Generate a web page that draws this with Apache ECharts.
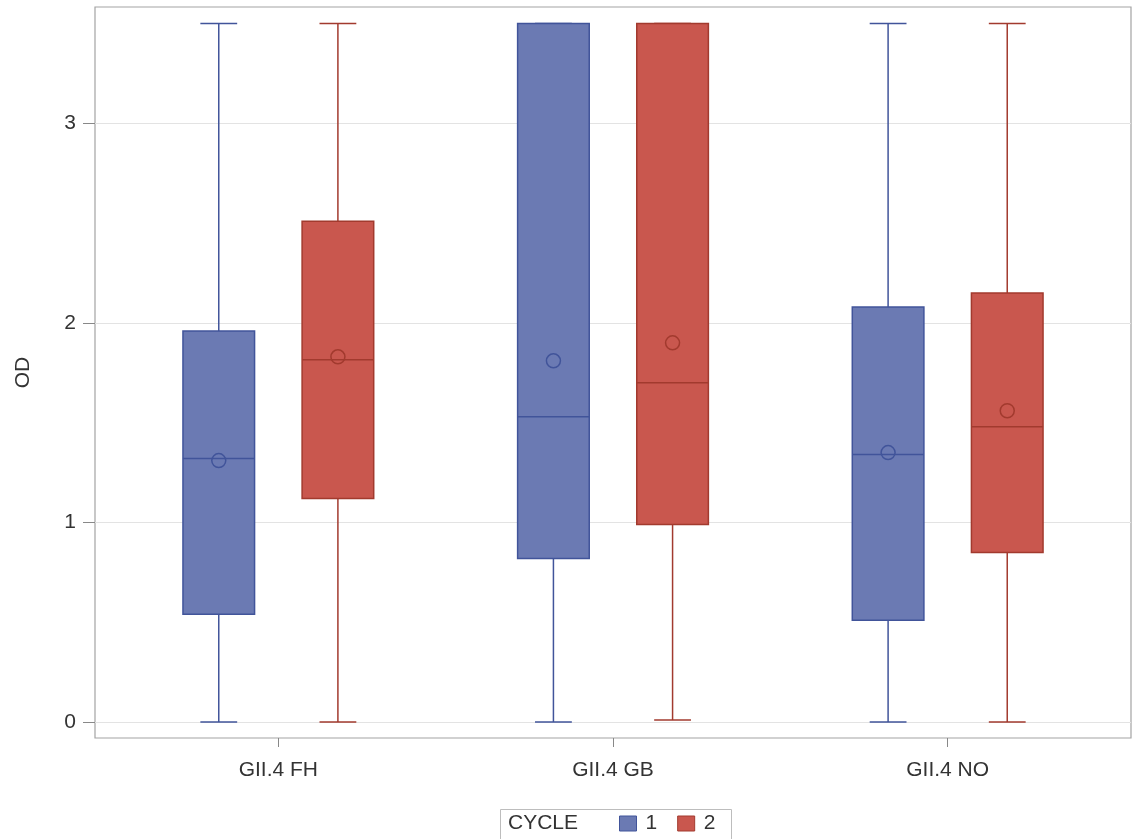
<!DOCTYPE html>
<html>
<head>
<meta charset="utf-8">
<title>OD by CYCLE</title>
<script src="https://cdn.jsdelivr.net/npm/echarts@6/dist/echarts.min.js"></script>
<style>
	html, body { margin: 0; padding: 0; background: #fff; }
	#chart { width: 1136px; height: 839px; }
</style>
</head>
<body>
<div id="chart"></div>
<script>
// categories and tick labels
var categories = ['GII.4 FH', 'GII.4 GB', 'GII.4 NO'];
var yTicks = [0, 1, 2, 3];

// cycle 1 box stats
var c1Min = [0, 0, 0];
var c1Q1 = [0.54, 0.82, 0.51];
var c1Median = [1.32, 1.53, 1.34];
var c1Q3 = [1.96, 3.5, 2.08];
var c1Max = [3.5, 3.5, 3.5];
var c1Mean = [1.31, 1.81, 1.35];

// cycle 2 box stats
var c2Min = [0, 0.01, 0];
var c2Q1 = [1.12, 0.99, 0.85];
var c2Median = [1.815, 1.70, 1.48];
var c2Q3 = [2.51, 3.5, 2.15];
var c2Max = [3.5, 3.5, 3.5];
var c2Mean = [1.83, 1.90, 1.56];

var blueFill = '#6b7ab3', blueLine = '#41549a';
var redFill = '#c9574e', redLine = '#a23a2e';

function rows(mn, q1, md, q3, mx, mean) {
	return categories.map(function(c, i) {
		return [i, mn[i], q1[i], md[i], q3[i], mx[i], mean[i]];
	});
}

// draws one box (offset inside the category band)
function boxRenderer(offset, fill, line) {
	return function(params, api) {
		var band = api.size([1, 0])[0];
		var cx = api.coord([api.value(0), 0])[0] + band * offset;
		var hw = band * 0.107, cw = band * 0.055;
		var y = function(i) { return api.coord([api.value(0), api.value(i)])[1]; };
		var yMin = y(1), yQ1 = y(2), yMed = y(3), yQ3 = y(4), yMax = y(5), yMean = y(6);
		var ls = { stroke: line, lineWidth: 1.5 };
		return {
			type: 'group',
			children: [
				{ type: 'line', shape: { x1: cx, y1: yMax, x2: cx, y2: yQ3 }, style: ls },
				{ type: 'line', shape: { x1: cx, y1: yQ1, x2: cx, y2: yMin }, style: ls },
				{ type: 'line', shape: { x1: cx - cw, y1: yMax, x2: cx + cw, y2: yMax }, style: ls },
				{ type: 'line', shape: { x1: cx - cw, y1: yMin, x2: cx + cw, y2: yMin }, style: ls },
				{ type: 'rect', shape: { x: cx - hw, y: yQ3, width: hw * 2, height: yQ1 - yQ3 }, style: { fill: fill, stroke: line, lineWidth: 1.5 } },
				{ type: 'line', shape: { x1: cx - hw, y1: yMed, x2: cx + hw, y2: yMed }, style: ls },
				{ type: 'circle', shape: { cx: cx, cy: yMean, r: 7 }, style: { fill: 'none', stroke: line, lineWidth: 1.5 } }
			]
		};
	};
}

var chart = echarts.init(document.getElementById('chart'));
var yMin = -0.08, yMax = 3.583;
var font = 'Liberation Sans, Arial, sans-serif';

var option = {
	backgroundColor: '#fff',
	animation: false,
	textStyle: { fontFamily: font },
	grid: [
		// frame
		{ left: 95, right: 5, top: 7, bottom: 101, show: true, borderColor: '#a3a3a3', borderWidth: 1.2 },
		// data area
		{ left: 111, right: 21, top: 7, bottom: 101 }
	],
	xAxis: [
		{ type: 'category', gridIndex: 0, data: categories, show: false },
		{
			type: 'category', gridIndex: 1, data: categories,
			axisLine: { show: false, onZero: false },
			axisTick: { show: true, alignWithLabel: true, length: 9, lineStyle: { color: '#888' } },
			axisLabel: { color: '#333', fontSize: 21, margin: 22, fontFamily: font },
			splitLine: { show: false }
		}
	],
	yAxis: [
		{
			type: 'value', gridIndex: 0, min: yMin, max: yMax,
			name: 'OD', nameLocation: 'middle', nameGap: 61,
			nameTextStyle: { color: '#333', fontSize: 21, fontFamily: font },
			axisLine: { show: false },
			axisTick: { show: true, length: 12, customValues: yTicks, lineStyle: { color: '#888' } },
			axisLabel: { color: '#333', fontSize: 21, margin: 19, customValues: yTicks, fontFamily: font },
			splitLine: { show: true, lineStyle: { color: '#e3e3e3', width: 1.2 } }
		},
		{ type: 'value', gridIndex: 1, min: yMin, max: yMax, show: false, splitLine: { show: false } }
	],
	legend: {
		data: [
			{ name: '1', itemStyle: { color: blueFill, borderColor: blueLine, borderWidth: 1 } },
			{ name: '2', itemStyle: { color: redFill, borderColor: redLine, borderWidth: 1 } }
		],
		left: 619, top: 813, padding: 0,
		icon: 'rect', itemWidth: 17, itemHeight: 15, itemGap: 20,
		selectedMode: false,
		textStyle: { color: '#333', fontSize: 21, fontFamily: font, padding: [0, 0, 0, 4] }
	},
	graphic: [
		{ type: 'rect', left: 498, top: 807, shape: { width: 231, height: 31 }, style: { fill: 'none', stroke: '#bdbdbd', lineWidth: 1 } },
		{ type: 'text', left: 508, top: 813, style: { text: 'CYCLE', fill: '#333', font: '21px ' + font } }
	],
	series: [
		{
			name: '1', type: 'custom', xAxisIndex: 1, yAxisIndex: 1,
			itemStyle: { color: blueFill, borderColor: blueLine },
			renderItem: boxRenderer(-0.178, blueFill, blueLine),
			encode: { x: 0, y: [1, 2, 3, 4, 5, 6] },
			data: rows(c1Min, c1Q1, c1Median, c1Q3, c1Max, c1Mean)
		},
		{
			name: '2', type: 'custom', xAxisIndex: 1, yAxisIndex: 1,
			itemStyle: { color: redFill, borderColor: redLine },
			renderItem: boxRenderer(0.178, redFill, redLine),
			encode: { x: 0, y: [1, 2, 3, 4, 5, 6] },
			data: rows(c2Min, c2Q1, c2Median, c2Q3, c2Max, c2Mean)
		}
	]
};

chart.setOption(option);
</script>
</body>
</html>
